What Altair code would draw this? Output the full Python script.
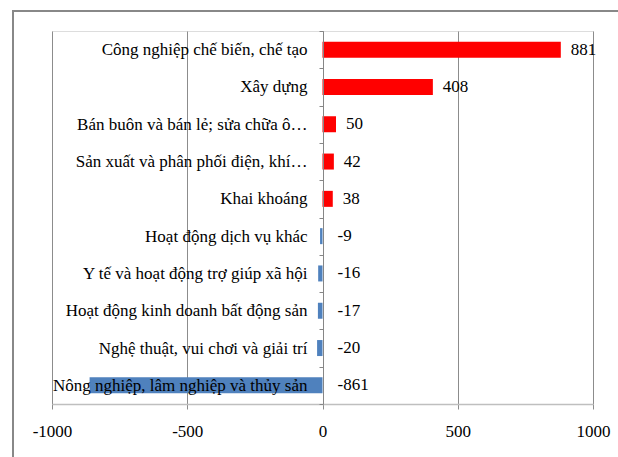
import altair as alt
import pandas as pd

categories = [
    "Công nghiệp chế biến, chế tạo",
    "Xây dựng",
    "Bán buôn và bán lẻ; sửa chữa ô…",
    "Sản xuất và phân phối điện, khí…",
    "Khai khoáng",
    "Hoạt động dịch vụ khác",
    "Y tế và hoạt động trợ giúp xã hội",
    "Hoạt động kinh doanh bất động sản",
    "Nghệ thuật, vui chơi và giải trí",
    "Nông nghiệp, lâm nghiệp và thủy sản",
]
values = [881, 408, 50, 42, 38, -9, -16, -17, -20, -861]
x_ticks = [-1000, -500, 0, 500, 1000]

df = pd.DataFrame({"cat": categories, "v": values})
df["sign"] = ["pos" if v > 0 else "neg" for v in values]

FONT = "Times New Roman, Liberation Serif, serif"
FS = 17

y_enc = alt.Y(
    "cat:N",
    sort=categories,
    scale=alt.Scale(paddingInner=0, paddingOuter=0),
    axis=alt.Axis(
        title=None,
        offset=-271,
        tickBand="extent",
        tickSize=4,
        tickColor="#868686",
        domainColor="#868686",
        labelPadding=12,
        labelFont=FONT,
        labelFontSize=FS,
        labelColor="black",
        labelLimit=400,
        zindex=1,
    ),
)

x_scale = alt.Scale(domain=[-1000, 1000], nice=False)

bars = alt.Chart(df).mark_bar(size=16).encode(
    x=alt.X(
        "v:Q",
        scale=x_scale,
        axis=alt.Axis(
            title=None,
            values=x_ticks,
            grid=True,
            gridColor="#8c8c8c",
            domainColor="#bfbfbf",
            domainWidth=1.5,
            tickColor="#8c8c8c",
            tickSize=5,
            labelPadding=14,
            labelFlush=False,
            labelOverlap=False,
            labelFont=FONT,
            labelFontSize=FS,
            labelColor="black",
            labelExpr="toString(datum.value)",
        ),
    ),
    y=y_enc,
    color=alt.Color(
        "sign:N",
        scale=alt.Scale(domain=["pos", "neg"], range=["#ff0000", "#4f81bd"]),
        legend=None,
    ),
)

pos_labels = alt.Chart(df).transform_filter("datum.v > 0").transform_calculate(
    lbl="toString(datum.v)"
).mark_text(
    align="left", baseline="middle", dx=10, font=FONT, fontSize=FS, color="black"
).encode(
    x=alt.X("v:Q", scale=x_scale),
    y=alt.Y("cat:N", sort=categories),
    text="lbl:N",
)

neg_labels = alt.Chart(df).transform_filter("datum.v < 0").transform_calculate(
    zero="0", lbl="toString(datum.v)"
).mark_text(
    align="left", baseline="middle", dx=15, font=FONT, fontSize=FS, color="black"
).encode(
    x=alt.X("zero:Q", scale=x_scale),
    y=alt.Y("cat:N", sort=categories),
    text="lbl:N",
)

border = alt.Chart(pd.DataFrame({"a": [0]})).mark_rect(
    fill=None, stroke="#888888", strokeWidth=2
).encode(
    x=alt.value(-39),
    y=alt.value(-20),
    x2=alt.value(700),
    y2=alt.value(600),
)

chart = alt.layer(border, bars, pos_labels, neg_labels).properties(
    width=541,
    height=373,
    autosize=alt.AutoSizeParams(type="none"),
    padding={"left": 52, "top": 31, "right": 25, "bottom": 53},
).configure_view(stroke=None).configure(background="white")

chart.save("out.html", embed_options={"renderer": "svg", "actions": False})
